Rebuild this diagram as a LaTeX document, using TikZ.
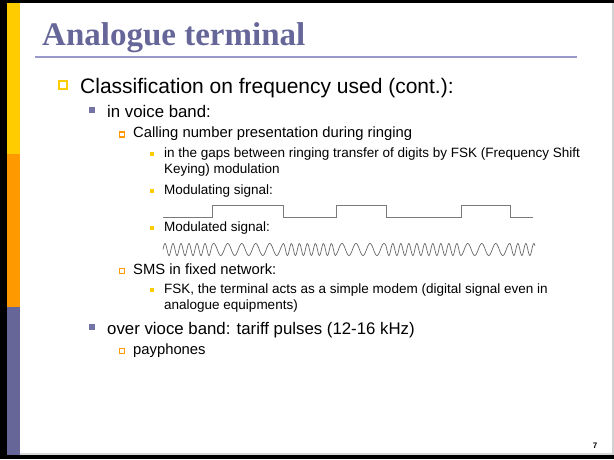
\documentclass[tikz,border=0pt]{standalone}
\usepackage{fontspec}
\setmainfont{Liberation Sans}
\newfontfamily\titlefont{Liberation Serif}
\definecolor{slideyellow}{HTML}{FFCC00}
\definecolor{slideorange}{HTML}{FF9900}
\definecolor{slidepurple}{HTML}{666699}
\definecolor{ruleviolet}{HTML}{9999CC}
\definecolor{bulletgray}{HTML}{7373A6}
\definecolor{signalgray}{HTML}{7A7A7A}
\tikzset{
  txt/.style={anchor=base west, inner sep=0pt, text=black},
  lvA/.style={txt, font=\fontsize{21}{24}\selectfont},
  lvB/.style={txt, font=\fontsize{16.8}{19}\selectfont},
  lvC/.style={txt, font=\fontsize{14.8}{17}\selectfont},
  lvD/.style={txt, font=\fontsize{13.5}{15}\selectfont},
  bulA/.style={rectangle, draw=slideyellow, line width=2pt, minimum size=8pt, inner sep=0pt},
  bulB/.style={rectangle, fill=bulletgray, minimum size=6pt, inner sep=0pt},
  bulC/.style={rectangle, draw=slideorange, line width=1.5pt, minimum size=5pt, inner sep=0pt},
  bulD/.style={rectangle, fill=slideyellow, minimum size=4pt, inner sep=0pt},
}
\begin{document}
\begin{tikzpicture}[x=1pt,y=-1pt]
\useasboundingbox (0,0) rectangle (614,459);
% slide frame
\fill[black] (0,0) rectangle (614,3);
\fill[black] (0,0) rectangle (7,459);
\fill[black] (0,455) rectangle (614,459);
\fill[gray!35] (612,3) rectangle (614,455);
\fill[gray!30] (20,453) rectangle (612,455);
% coloured side strip
\fill[slideyellow] (7,3) rectangle (20,154);
\fill[slideorange] (7,154) rectangle (20,307);
\fill[slidepurple] (7,307) rectangle (20,455);

% title and rule
\node[txt, text=slidepurple, font=\titlefont\bfseries\fontsize{33}{37}\selectfont] (title) at (42,45) {Analogue terminal};
\draw[ruleviolet, line width=2pt] (35,57) -- (577,57);

% level 1
\node[bulA] (b1) at (63,85) {};
\node[lvA] (t1) at (80,93) {Classification on frequency used (cont.):};

% level 2: voice band
\node[bulB] (b2) at (92,110) {};
\node[lvB] (t2) at (107,117) {in voice band:};

\node[bulC] (b3) at (122,134.5) {};
\node[lvC] (t3) at (133,137) {Calling number presentation during ringing};

\node[bulD] (b4) at (152,153.5) {};
\node[lvD] (t4a) at (164,157) {in the gaps between ringing transfer of digits by FSK (Frequency Shift};
\node[lvD] (t4b) at (164,173) {Keying) modulation};

\node[bulD] (b5) at (152,190.5) {};
\node[lvD] (t5) at (164,194) {Modulating signal:};

% modulating (binary) signal
\draw[signalgray, line width=1pt] (163,217) -- (212,217) -- (212,205) -- (283,205) -- (283,217)
  -- (336,217) -- (336,205) -- (386,205) -- (386,217) -- (461,217) -- (461,205)
  -- (510,205) -- (510,217) -- (533,217);

\node[bulD] (b6) at (152,227.5) {};
\node[lvD] (t6) at (164,231) {Modulated signal:};

% FSK modulated signal, phase continuous
\draw[black!60, line width=0.7pt]
  plot[domain=163:212, samples=99] (\x, {249.5-6*sin(360*((\x-163)/8))})
  -- plot[domain=212:283, samples=143] (\x, {249.5-6*sin(360*(6.125+(\x-212)/14))})
  -- plot[domain=283:336, samples=107] (\x, {249.5-6*sin(360*(11.1964+(\x-283)/8))})
  -- plot[domain=336:386, samples=101] (\x, {249.5-6*sin(360*(17.8214+(\x-336)/14))})
  -- plot[domain=386:461, samples=151] (\x, {249.5-6*sin(360*(21.3929+(\x-386)/8))})
  -- plot[domain=461:510, samples=99] (\x, {249.5-6*sin(360*(30.7679+(\x-461)/14))})
  -- plot[domain=510:535, samples=51] (\x, {249.5-6*sin(360*(34.2679+(\x-510)/8))});

\node[bulC] (b7) at (122,271) {};
\node[lvC] (t7) at (133,274) {SMS in fixed network:};

\node[bulD] (b8) at (152,289.5) {};
\node[lvD] (t8a) at (164,293) {FSK, the terminal acts as a simple modem (digital signal even in};
\node[lvD] (t8b) at (164,309) {analogue equipments)};

% level 2: over voice band
\node[bulB] (b9) at (92,327) {};
\node[lvB] (t9) at (107,334) {over vioce band: tariff pulses (12-16 kHz)};

\node[bulC] (b10) at (122,351) {};
\node[lvC] (t10) at (133,354) {payphones};

% slide number
\node[anchor=base, inner sep=0pt, font=\bfseries\fontsize{8}{9}\selectfont] (pgnum) at (595,448) {7};
\end{tikzpicture}
\end{document}
